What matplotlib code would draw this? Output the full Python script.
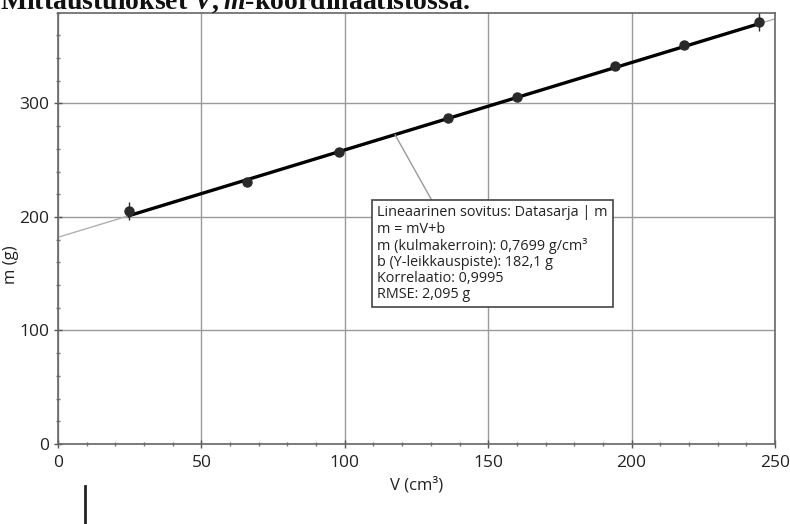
import numpy as np
import matplotlib
matplotlib.use('Agg')
import matplotlib.pyplot as plt
from matplotlib.lines import Line2D
from matplotlib.ticker import MultipleLocator

volume = [24.8, 65.8, 98.1, 136.1, 160.1, 194.2, 218.3, 244.4]
mass = [205.4, 231.0, 256.9, 286.9, 305.5, 333.1, 351.4, 371.7]
mass_err = [8, 0, 0, 0, 0, 0, 0, 8]

# Linear fit parameters shown in the box
SLOPE = 0.7699
INTERCEPT = 182.1

title = "Mittaustulokset $V,m$-koordinaatistossa."
fit_text = ("Lineaarinen sovitus: Datasarja | m\n"
            "m = mV+b\n"
            "m (kulmakerroin): 0,7699 g/cm³\n"
            "b (Y-leikkauspiste): 182,1 g\n"
            "Korrelaatio: 0,9995\n"
            "RMSE: 2,095 g")

GRID_COLOR = '#9a9a9a'
FONT = ['Open Sans', 'DejaVu Sans']

plt.rcParams['mathtext.fontset'] = 'custom'
plt.rcParams['mathtext.it'] = 'Liberation Serif:italic:bold'
plt.rcParams['mathtext.rm'] = 'Liberation Serif:bold'

fig = plt.figure(figsize=(7.9, 5.24), dpi=100)
ax = fig.add_axes([0.0734, 0.1527, 0.9076, 0.8231])

ax.set_xlim(0, 250)
ax.set_ylim(0, 380)

# thin extended fit line
xx = np.array([0, 252])
ax.plot(xx, SLOPE * xx + INTERCEPT, color='#b0b0b0', linewidth=1, zorder=2)
# thick fit line over data range
xf = np.array([min(volume), max(volume)])
ax.plot(xf, SLOPE * xf + INTERCEPT, color='black', linewidth=2.4, zorder=3)

ax.errorbar(volume, mass, yerr=mass_err, fmt='o', color='#2a2a2a',
            markersize=6.5, elinewidth=1, capsize=0, zorder=4)

ax.xaxis.set_major_locator(MultipleLocator(50))
ax.xaxis.set_minor_locator(MultipleLocator(10))
ax.yaxis.set_major_locator(MultipleLocator(100))
ax.yaxis.set_minor_locator(MultipleLocator(20))
ax.tick_params(which='major', direction='inout', length=6, width=1,
               colors='#555555', labelcolor='#222222', labelsize=12.5)
ax.tick_params(axis='x', which='major', pad=5)
ax.tick_params(which='minor', direction='inout', length=3, width=1,
               colors='#777777')
for lab in ax.get_xticklabels() + ax.get_yticklabels():
    lab.set_family(FONT)

ax.grid(True, which='major', color=GRID_COLOR, linewidth=1)
ax.set_axisbelow(True)
for sp in ax.spines.values():
    sp.set_color('#666666')
    sp.set_linewidth(1.2)

ax.set_xlabel('V (cm³)', fontsize=12, family=FONT, color='#222222', labelpad=4)
ax.set_ylabel('m (g)', fontsize=12, family=FONT, color='#222222')
ax.yaxis.set_label_coords(-0.055, 0.415)

# annotation box with leader line
ax.annotate(fit_text, xy=(117.5, SLOPE * 117.5 + INTERCEPT),
            xytext=(0.445, 0.553), textcoords='axes fraction',
            ha='left', va='top', fontsize=10.4, family=FONT, color='#222222',
            linespacing=1.1,
            bbox=dict(boxstyle='square,pad=0.35', fc='white', ec='#444444', lw=1.2),
            arrowprops=dict(arrowstyle='-', color='#999999', lw=1,
                            shrinkA=0, shrinkB=0, relpos=(0.25, 1.0)),
            zorder=5)

# title, cut off at top of the scan (as in the original)
fig.text(0.0, 1 - 9 / 524, title, fontsize=20, fontweight='bold',
         family=['Liberation Serif', 'DejaVu Serif'], ha='left', va='baseline',
         color='#111111')

# pen mark below the axes
fig.add_artist(Line2D([85 / 790, 85 / 790], [0, 1 - 486 / 524],
                      color='#222222', linewidth=2))

fig.savefig('out.png', dpi=100)
